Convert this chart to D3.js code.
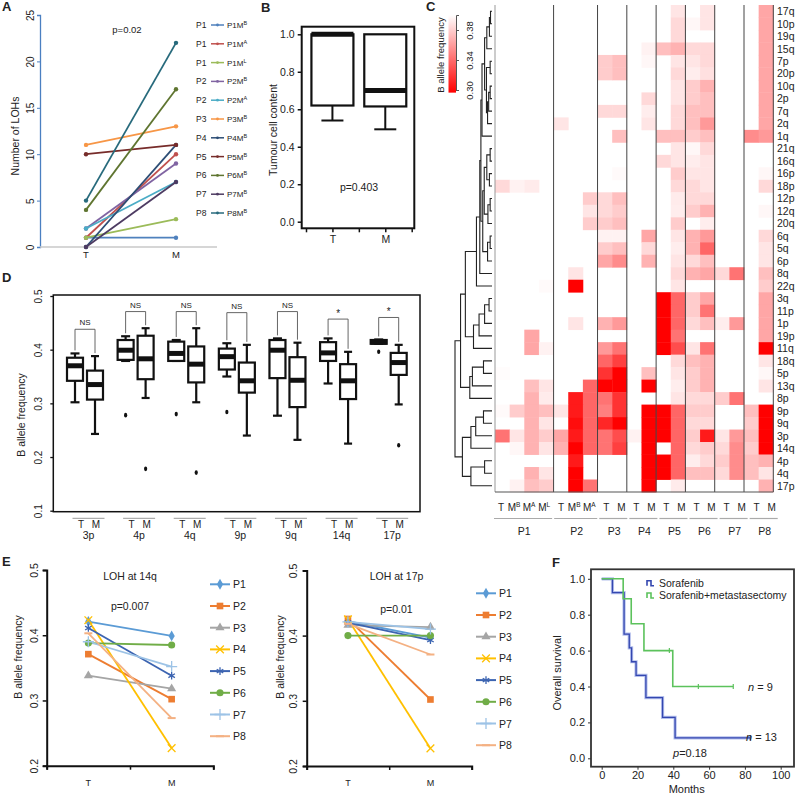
<!DOCTYPE html>
<html><head><meta charset="utf-8">
<script src="https://cdn.jsdelivr.net/npm/d3@7"></script>
<style>body{margin:0;background:#fff} svg{display:block} text{font-family:Arial,"Liberation Sans",Helvetica,sans-serif;fill:#222}</style>
</head><body><svg id="c" width="796" height="794"></svg>
<script>
// ---------------- DATA ----------------
// Panel A
const lohPatient = ["P1","P1","P1","P2","P2","P3","P4","P5","P6","P7","P8"];
const lohSampleSup = ["B","A","L","B","A","B","B","B","B","B","B"];
const lohT = [1,1,1,2,2,11,0,10,4,0,5];
const lohM = [1,10,3,9,7,13,11,11,17,7,22];
const lohColor = ["#4f81bd","#c0504d","#9bbb59","#8064a2","#4bacc6","#f79646","#2c4d75","#772c2a","#5f7530","#4d3b62","#276a7c"];
const lohTicks = [0,5,10,15,20,25];
// Panel B
const tcGroups = ["T","M"];
const tcMin = [0.54,0.493], tcQ1 = [0.62,0.615], tcMed = [1.0,0.70], tcQ3 = [1.0,1.0];
const tcTicks = [0,0.2,0.4,0.6,0.8,1.0];
// Panel C
const W = 0.45; // no LOH (white)
const chrArms = ["17q","10p","19q","15q","7p","20p","10q","2p","7q","2q","1q","21q","16q","16p","18p","12p","12q","20q","6q","5q","6p","8q","22q","3q","11p","1p","19p","11q","18q","5p","13q","8p","9p","9q","3p","14q","4p","4q","17p"];
const redArms = ["9p","9q","3p","14q","4p","4q","17p"];
const sampleBase = ["T","M","M","M","T","M","M","T","M","T","M","T","M","T","M","T","M","T","M"];
const sampleSup  = ["","B","A","L","","B","A","","","","","","","","","","","",""];
const samplePatient = ["P1","P1","P1","P1","P2","P2","P2","P3","P3","P4","P4","P5","P5","P6","P6","P7","P7","P8","P8"];
const patients = ["P1","P2","P3","P4","P5","P6","P7","P8"];
const bafMatrix = [
[W,W,W,W, W,W,W, W,W, W,W, W,.39, W,.39, W,W, W,.365],
[W,W,W,W, W,W,W, W,W, W,W, W,.385, .397,.39, W,W, W,.365],
[W,W,W,W, W,W,W, W,W, W,W, W,.385, W,W, W,W, W,.365],
[W,W,W,W, W,W,W, W,W, W,.395, .375,.37, .385,.385, W,W, W,.365],
[W,W,W,W, W,W,W, .38,.375, W,.397, W,.39, .39,.385, W,W, W,.365],
[W,W,W,W, W,W,W, .38,.375, W,W, W,.385, .393,.388, W,W, W,.365],
[W,W,W,W, W,W,W, W,W, W,W, W,.39, .38,.37, W,W, W,.365],
[W,W,W,W, W,W,W, W,W, W,.385, W,.39, .38,.375, W,W, W,.365],
[W,W,W,W, W,W,W, .385,.385, W,.393, W,.385, .375,.375, W,W, W,.365],
[W,W,W,W, .39,W,W, W,W, W,.39, W,.385, .375,.36, W,W, W,.365],
[W,W,W,W, W,W,W, W,.375, W,W, .375,.375, .38,.375, W,W, .355,.36],
[W,W,W,W, W,W,W, W,W, W,W, W,.39, .397,.385, W,W, W,W],
[W,W,W,W, W,W,W, W,W, W,W, .385,.39, .393,.39, W,W, W,W],
[W,W,W,W, W,W,W, W,.398, W,W, W,.38, .39,.39, W,W, W,.397],
[.385,.395,.392,W, W,W,W, W,W, W,W, W,.385, .385,.39, W,W, W,.385],
[W,W,W,W, W,W,.38, .385,.375, W,W, W,.392, .385,.385, W,W, W,W],
[W,W,W,W, W,W,.39, .385,.38, W,W, W,.393, .38,.37, W,W, W,.397],
[W,W,W,W, W,W,.38, .38,.375, W,W, W,.38, W,.393, W,W, W,W],
[W,W,W,W, W,W,W, .395,.395, W,.365, W,.39, .37,.36, W,W, W,.385],
[W,W,W,W, W,W,W, .38,.375, W,.385, W,.393, .37,.34, W,W, W,.39],
[W,W,W,W, W,W,W, .365,.355, W,.37, W,.39, .385,.375, W,W, W,.39],
[W,W,W,W, W,.39,W, W,W, W,W, W,.385, .37,.365, .385,.345, W,.375],
[W,W,W,.398, W,.30,W, W,W, W,W, W,.39, W,W, W,W, W,.38],
[W,W,W,W, W,W,W, W,W, W,W, .30,.34, .38,.365, W,W, W,.365],
[W,W,W,W, W,W,W, W,W, W,W, .30,.34, .38,.345, W,W, W,.365],
[W,W,W,W, W,.39,W, .37,.36, W,W, .30,.34, .385,.375, .393,.36, W,.365],
[W,W,.365,W, W,W,W, W,W, W,W, .30,.345, W,W, W,W, W,.365],
[W,W,.365,.395, W,W,W, .36,.345, W,W, .30,.33, .39,.345, W,W, W,.30],
[W,W,W,W, W,W,W, .34,.325, W,W, W,.385, .375,.37, W,W, W,.39],
[.399,W,W,W, W,W,W, .32,.30, W,.375, W,.39, .38,.37, W,W, W,.397],
[W,W,.375,.39, W,W,.34, .30,.30, W,.30, W,.393, .38,.37, W,W, W,.39],
[W,W,.37,.392, W,.31,.34, .345,.32, W,W, W,.39, .385,.385, .38,.345, W,W],
[.398,.38,.37,.375, .39,.31,.34, .35,.32, W,.30, .30,.34, .38,.38, W,W, .375,.30],
[W,W,.37,.39, W,.305,.34, .315,.30, W,.30, .30,.34, .385,.385, W,W, .38,.30],
[.345,.39,.37,.38, .365,.31,.34, .345,.33, .395,.30, .30,.34, .38,.31, .39,.36, .375,.30],
[W,.397,.37,.39, .37,.30,.34, .345,.325, W,.30, W,.34, .385,.38, .385,.355, .38,.30],
[W,W,W,W, W,.31,W, W,W, W,.30, .30,.34, .393,.385, .38,.355, .375,.37],
[W,W,.37,.39, W,.30,W, W,W, W,.30, .30,.34, .375,.375, .385,.355, .375,.39],
[W,.395,.375,.38, W,.30,.345, W,W, W,.30, W,.392, W,W, W,W, W,.37]
];
const colorbarTicks = [0.30,0.34,0.38];
// dendrogram: [height, left, right]
const armTree = [1.0,
  [0.85,
    [0.72,
      [0.42,[0.33,[0.3,
        [0.27,[0.2,[0.14,[0.07,[0.04,"17q","10p"],"19q"],"15q"],[0.15,[0.05,"7p","20p"],[0.12,[0.09,[0.05,"10q","2p"],"7q"],"2q"]]],"1q"],
        [0.25,[0.21,[0.14,[0.05,"21q","16q"],[0.07,"16p","18p"]],[0.11,[0.05,"12p","12q"],"20q"]],[0.12,[0.05,"6q","5q"],"6p"]]
      ],"8q"],"22q"],
      [0.5,[0.35,[0.2,[0.08,"3q","11p"],"1p"],"19p"],"11q"]
    ],
    [0.6,[0.53,[0.23,"18q","5p"],"13q"],"8p"]
  ],
  [0.8,
    [0.57,[0.44,[0.23,"9p","9q"],"3p"],"14q"],
    [0.57,[0.2,"4p","4q"],"17p"]
  ]
];
// Panel D
const chrD = ["3p","4p","4q","9p","9q","14q","17p"];
const dT = {lo:[.302,.379,.379,.35,.277,.337,.411], q1:[.342,.381,.379,.363,.347,.379,.411], med:[.370,.399,.393,.387,.399,.394,.414], q3:[.385,.418,.415,.402,.418,.414,.418], hi:[.393,.425,.418,.412,.421,.421,.419]};
const dM = {lo:[.243,.31,.302,.24,.232,.225,.298], q1:[.307,.345,.339,.32,.293,.308,.353], med:[.335,.383,.373,.342,.343,.342,.376], q3:[.361,.426,.406,.376,.386,.373,.394], hi:[.388,.44,.44,.409,.413,.396,.409]};
const dOutT = [null,.278,.28,.284,null,null,.396];
const dOutM = [null,.178,.171,null,null,null,.222];
const dSigLabel = ["NS","NS","NS","NS","NS","*","*"];
const dSigY = [.438,.471,.471,.469,.471,.457,.46];
const dTicks = [0.1,0.2,0.3,0.4,0.5];
// Panel E
const ePatients = ["P1","P2","P3","P4","P5","P6","P7","P8"];
const eColors = ["#5b9bd5","#ed7d31","#a5a5a5","#ffc000","#3c64b1","#70ad47","#9dc3e6","#f4b183"];
const eSymbols = ["diamond","square","triangle","times","asterisk","circle","plus","dash"];
const e14T = [0.421,0.371,0.338,0.423,0.411,0.388,0.390,0.403];
const e14M = [0.399,0.302,0.318,0.227,0.338,0.385,0.352,0.273];
const e17T = [0.422,0.4255,0.416,0.425,0.420,0.400,0.421,0.418];
const e17M = [0.397,0.302,0.413,0.227,0.393,0.400,0.410,0.371];
const eTicks = [0.2,0.3,0.4,0.5];
// Panel F
const kmTimesS = [0,6,12.5,15.4,16.7,19.2,24.7,34,41,83];
const kmSurvS  = [1,0.923,0.692,0.615,0.538,0.462,0.338,0.228,0.114,0.114];
const kmTimesC = [0,12,16.5,23.6,39.7,73.5];
const kmSurvC  = [1,0.889,0.75,0.6,0.4,0.4];
const censorC = [[37.8,0.6],[54,0.4],[73.5,0.4]];
const censorS = [[83,0.114]];
const fTicksX = [0,20,40,60,80,100];
const fTicksY = [0,0.2,0.4,0.6,0.8,1.0];

// ---------------- DRAW ----------------
const svg = d3.select("#c");
const FONT = 'Arial,"Liberation Sans",sans-serif';
function panelLabel(t,x,y){svg.append("text").attr("x",x).attr("y",y).attr("font-size",13).attr("font-weight","bold").text(t);}
function rotTicks(g,off){g.selectAll(".tick text").attr("transform","rotate(-90)").attr("x",0).attr("y",off).attr("dy",0).attr("text-anchor","middle");}
function rotText(x,y,t,fs){return svg.append("text").attr("transform",`translate(${x},${y}) rotate(-90)`).attr("text-anchor","middle").attr("font-size",fs).text(t);}

// ===== Panel A =====
panelLabel("A",2,11);
const yA = d3.scaleLinear([0,25],[247,15]);
const xA = d3.scalePoint(["T","M"],[86,176]);
const gA = svg.append("g").attr("transform","translate(40,0)").call(d3.axisLeft(yA).tickValues(lohTicks).tickSize(3));
gA.select(".domain").attr("stroke","#4a7fc1").attr("stroke-width",1.3);
gA.selectAll(".tick line").attr("stroke","#4a7fc1");
gA.selectAll(".tick text").attr("font-size",10).attr("fill","#333").attr("font-family",FONT);
rotTicks(gA,-6);
svg.append("line").attr("x1",40).attr("x2",217).attr("y1",yA(0)).attr("y2",yA(0)).attr("stroke","#c8c8c8").attr("stroke-width",1.3);
["T","M"].forEach(c=>svg.append("text").attr("x",xA(c)).attr("y",258).attr("text-anchor","middle").attr("font-size",9.5).text(c));
rotText(19,136,"Number of LOHs",10.5);
svg.append("text").attr("x",127).attr("y",32.5).attr("text-anchor","middle").attr("font-size",9.5).text("p=0.02");
lohT.forEach((t,i)=>{
  const g=svg.append("g");
  g.append("line").attr("x1",xA("T")).attr("y1",yA(t)).attr("x2",xA("M")).attr("y2",yA(lohM[i])).attr("stroke",lohColor[i]).attr("stroke-width",1.8);
  g.append("circle").attr("cx",xA("T")).attr("cy",yA(t)).attr("r",2.2).attr("fill",lohColor[i]);
  g.append("circle").attr("cx",xA("M")).attr("cy",yA(lohM[i])).attr("r",2.2).attr("fill",lohColor[i]);
});
lohPatient.forEach((p,i)=>{
  const y=25+i*18.8;
  svg.append("text").attr("x",196).attr("y",y+3).attr("font-size",8.5).attr("fill","#333").text(p);
  svg.append("line").attr("x1",211).attr("x2",224).attr("y1",y).attr("y2",y).attr("stroke",lohColor[i]).attr("stroke-width",1.5);
  svg.append("circle").attr("cx",217.5).attr("cy",y).attr("r",1.4).attr("fill",lohColor[i]);
  const t=svg.append("text").attr("x",227).attr("y",y+3).attr("font-size",8).attr("fill","#333").text(p+"M");
  t.append("tspan").attr("font-size",5.5).attr("dy",-3).text(lohSampleSup[i]);
});

// ===== Panel B =====
panelLabel("B",261,12);
const yB = d3.scaleLinear([0,1],[221.7,34.3]);
const xB = d3.scaleLinear([0.5,2.5],[306,411.7]);
svg.append("rect").attr("x",301.7).attr("y",26.7).attr("width",112.6).attr("height",201.6).attr("fill","none").attr("stroke","#111").attr("stroke-width",2);
const gB = svg.append("g").attr("transform","translate(301.7,0)").call(d3.axisLeft(yB).tickValues(tcTicks).tickFormat(d3.format(".1f")).tickSize(4));
gB.select(".domain").remove();
gB.selectAll(".tick line").attr("stroke","#111").attr("stroke-width",1.5);
gB.selectAll(".tick text").attr("font-size",10.5).attr("fill","#222").attr("font-family",FONT);
const gBx = svg.append("g").attr("transform","translate(0,228.3)").call(d3.axisBottom(xB).tickValues([0.5,1,1.5,2,2.5]).tickSize(4).tickFormat(d=>d===1?"T":d===2?"M":""));
gBx.select(".domain").remove();
gBx.selectAll(".tick line").attr("stroke","#111").attr("stroke-width",1.5);
gBx.selectAll(".tick text").attr("font-size",10.5).attr("fill","#222").attr("font-family",FONT);
rotText(277,130,"Tumour cell content",10.5);
svg.append("text").attr("x",359).attr("y",191).attr("text-anchor","middle").attr("font-size",10.5).text("p=0.403");
tcGroups.forEach((g,i)=>{
  const cx=xB(i+1);
  svg.append("line").attr("x1",cx).attr("x2",cx).attr("y1",yB(tcQ1[i])).attr("y2",yB(tcMin[i])).attr("stroke","#111").attr("stroke-width",2);
  svg.append("line").attr("x1",cx-11).attr("x2",cx+11).attr("y1",yB(tcMin[i])).attr("y2",yB(tcMin[i])).attr("stroke","#111").attr("stroke-width",2);
  svg.append("rect").attr("x",cx-21).attr("y",yB(tcQ3[i])).attr("width",42).attr("height",yB(tcQ1[i])-yB(tcQ3[i])).attr("fill","none").attr("stroke","#111").attr("stroke-width",2.2);
  svg.append("line").attr("x1",cx-21).attr("x2",cx+21).attr("y1",yB(tcMed[i])).attr("y2",yB(tcMed[i])).attr("stroke","#111").attr("stroke-width",5);
});

// ===== Panel C =====
panelLabel("C",426,11);
const xC = d3.scaleBand(d3.range(19),[495,773.3]);
const yC = d3.scaleBand(chrArms,[5,492]);
const colC = d3.scaleLinear([0.30,0.40],["#ff0000","#ffffff"]).clamp(true);
bafMatrix.forEach((row,r)=>row.forEach((v,c)=>{
  if(v>=0.40) return;
  svg.append("rect").attr("x",xC(c)).attr("y",yC(chrArms[r])).attr("width",xC.bandwidth()+0.4).attr("height",yC.bandwidth()+0.4).attr("fill",colC(v));
}));
svg.append("line").attr("x1",495).attr("x2",495).attr("y1",5).attr("y2",492).attr("stroke","#999").attr("stroke-width",1);
samplePatient.forEach((p,i)=>{
  if(i>0 && samplePatient[i-1]!==p){
    svg.append("line").attr("x1",xC(i)).attr("x2",xC(i)).attr("y1",5).attr("y2",492).attr("stroke","#444").attr("stroke-width",1);
  }
});
svg.append("line").attr("x1",xC(18)+xC.bandwidth()).attr("x2",xC(18)+xC.bandwidth()).attr("y1",5).attr("y2",492).attr("stroke","#444").attr("stroke-width",1);
svg.append("line").attr("x1",495).attr("x2",773.3).attr("y1",492).attr("y2",492).attr("stroke","#555").attr("stroke-width",1.2);
chrArms.forEach(a=>svg.append("text").attr("x",777).attr("y",yC(a)+yC.bandwidth()/2+3.8).attr("font-size",10.5).attr("fill",redArms.includes(a)?"#ff0000":"#222").text(a));
const xLab = d3.scalePoint(d3.range(19),[501,771.7]);
sampleBase.forEach((b,i)=>{
  const t=svg.append("text").attr("x",xLab(i)-(sampleSup[i]?2:0)).attr("y",511).attr("text-anchor","middle").attr("font-size",10).attr("fill","#333").text(b);
  if(sampleSup[i]) t.append("tspan").attr("font-size",6.5).attr("dy",-4).text(sampleSup[i]);
});
patients.forEach(p=>{
  const idx=d3.range(19).filter(i=>samplePatient[i]===p);
  const x0=xLab(idx[0])-7, x1=xLab(idx[idx.length-1])+6;
  svg.append("line").attr("x1",x0).attr("x2",x1).attr("y1",518.5).attr("y2",518.5).attr("stroke","#aaa").attr("stroke-width",1.2);
  svg.append("text").attr("x",(x0+x1)/2+1).attr("y",534.5).attr("text-anchor","middle").attr("font-size",10.5).attr("fill","#333").text(p);
});
const xDen = d3.scaleLinear([0,1],[492,455]);
function den(node){
  if(typeof node==="string") return {x:xDen(0),y:yC(node)+yC.bandwidth()/2};
  const [h,a,b]=node; const A=den(a),B=den(b),x=xDen(h);
  svg.append("path").attr("d",`M${A.x},${A.y}H${x}V${B.y}H${B.x}`).attr("fill","none").attr("stroke","#222").attr("stroke-width",1.1);
  return {x,y:(A.y+B.y)/2};
}
den(armTree);
const yCB = d3.scaleLinear([0.30,0.40],[90,15]);
const grad = svg.append("defs").append("linearGradient").attr("id","cb").attr("x1",0).attr("x2",0).attr("y1",0).attr("y2",1);
grad.append("stop").attr("offset","0%").attr("stop-color",colC(0.40));
grad.append("stop").attr("offset","100%").attr("stop-color",colC(0.2965));
svg.append("rect").attr("x",448.5).attr("y",yCB(0.40)).attr("width",7.5).attr("height",yCB(0.2965)-yCB(0.40)).attr("fill","url(#cb)");
const gCB = svg.append("g").attr("transform","translate(456,0)").call(d3.axisRight(yCB).tickValues(colorbarTicks).tickFormat(d3.format(".2f")).tickSize(3));
gCB.select(".domain").attr("stroke","#555");
gCB.selectAll(".tick line").attr("stroke","#555");
gCB.selectAll(".tick text").attr("font-size",9.5).attr("fill","#333").attr("font-family",FONT);
rotTicks(gCB,17);
rotText(444,55,"B allele frequency",9.5);

// ===== Panel D =====
panelLabel("D",2,282);
const yD = d3.scaleLinear([0.1,0.5],[510.7,296]);
const xD = d3.scalePoint(chrD,[85,388.7]);
svg.append("rect").attr("x",53.3).attr("y",295).attr("width",366.7).attr("height",216.7).attr("fill","none").attr("stroke","#111").attr("stroke-width",1.5);
const gD = svg.append("g").attr("transform","translate(53.3,0)").call(d3.axisLeft(yD).tickValues(dTicks).tickFormat(d3.format(".1f")).tickSize(3));
gD.select(".domain").remove();
gD.selectAll(".tick line").attr("stroke","#111").attr("stroke-width",1.3);
gD.selectAll(".tick text").attr("font-size",10).attr("fill","#333").attr("font-family",FONT);
rotTicks(gD,-11);
rotText(25,415,"B allele frequency",10.5);
function boxD(cx,s,i,capW){
  const k="#111";
  svg.append("line").attr("x1",cx).attr("x2",cx).attr("y1",yD(s.hi[i])).attr("y2",yD(s.q3[i])).attr("stroke",k).attr("stroke-width",2.2);
  svg.append("line").attr("x1",cx).attr("x2",cx).attr("y1",yD(s.q1[i])).attr("y2",yD(s.lo[i])).attr("stroke",k).attr("stroke-width",2.2);
  svg.append("line").attr("x1",cx-capW/2).attr("x2",cx+capW/2).attr("y1",yD(s.hi[i])).attr("y2",yD(s.hi[i])).attr("stroke",k).attr("stroke-width",2.2);
  svg.append("line").attr("x1",cx-capW/2).attr("x2",cx+capW/2).attr("y1",yD(s.lo[i])).attr("y2",yD(s.lo[i])).attr("stroke",k).attr("stroke-width",2.2);
  svg.append("rect").attr("x",cx-8).attr("y",yD(s.q3[i])).attr("width",16).attr("height",Math.max(0.5,yD(s.q1[i])-yD(s.q3[i]))).attr("fill","#fff").attr("stroke",k).attr("stroke-width",2.2);
  svg.append("line").attr("x1",cx-8).attr("x2",cx+8).attr("y1",yD(s.med[i])).attr("y2",yD(s.med[i])).attr("stroke",k).attr("stroke-width",5);
}
chrD.forEach((c,i)=>{
  const cx=xD(c), tx=cx-10, mx=cx+10;
  boxD(tx,dT,i,9); boxD(mx,dM,i,8);
  if(dOutT[i]!=null) svg.append("ellipse").attr("cx",tx).attr("cy",yD(dOutT[i])).attr("rx",1.6).attr("ry",2.3).attr("fill","#111");
  if(dOutM[i]!=null) svg.append("ellipse").attr("cx",mx).attr("cy",yD(dOutM[i])).attr("rx",1.6).attr("ry",2.3).attr("fill","#111");
  const by=yD(dSigY[i]);
  svg.append("path").attr("d",`M${tx},${yD(dT.hi[i])-3}V${by}H${mx}V${yD(dM.hi[i])-3}`).attr("fill","none").attr("stroke","#555").attr("stroke-width",0.9);
  svg.append("text").attr("x",cx).attr("y",by-(dSigLabel[i]==="*"?2:4)).attr("text-anchor","middle").attr("font-size",dSigLabel[i]==="*"?10:8).attr("fill","#333").text(dSigLabel[i]);
  const lc=cx+3.5;
  svg.append("line").attr("x1",lc-16).attr("x2",lc+16).attr("y1",518.3).attr("y2",518.3).attr("stroke","#999").attr("stroke-width",1);
  svg.append("text").attr("x",lc-7.5).attr("y",528).attr("text-anchor","middle").attr("font-size",10).text("T");
  svg.append("text").attr("x",lc+7.5).attr("y",528).attr("text-anchor","middle").attr("font-size",10).text("M");
  svg.append("text").attr("x",lc).attr("y",538.5).attr("text-anchor","middle").attr("font-size",10.5).text(c);
});

// ===== Panel E =====
panelLabel("E",2,566);
function drawSym(g,kind,x,y,color){
  const map={diamond:d3.symbolDiamond,square:d3.symbolSquare,triangle:d3.symbolTriangle,circle:d3.symbolCircle,asterisk:d3.symbolAsterisk,plus:d3.symbolPlus,times:d3.symbolTimes||d3.symbolCross};
  if(kind==="dash"){g.append("line").attr("x1",x-4).attr("x2",x+4).attr("y1",y).attr("y2",y).attr("stroke",color).attr("stroke-width",2);return;}
  const sizes={diamond:34,square:44,triangle:36,circle:40,asterisk:40,plus:42,times:40};
  const p=g.append("path").attr("transform",`translate(${x},${y})`).attr("d",d3.symbol(map[kind],sizes[kind])());
  if(["asterisk","plus","times"].includes(kind)) p.attr("fill","none").attr("stroke",color).attr("stroke-width",1.3);
  else p.attr("fill",color);
}
function panelE(x0,x1,ys,T,M,title,ptext,titleX,yTitle,pY,legX,legY0,labX,tickOff){
  const yE=d3.scaleLinear([0.2,0.5],ys);
  const xE=d3.scaleLinear([0,2],[x0,x1]);
  const gy=svg.append("g").attr("transform",`translate(${x0},0)`).call(d3.axisLeft(yE).tickValues(eTicks).tickFormat(d3.format(".1f")).tickSize(4));
  gy.select(".domain").attr("stroke","#111").attr("stroke-width",2);
  gy.selectAll(".tick line").attr("stroke","#111").attr("stroke-width",1.5);
  gy.selectAll(".tick text").attr("font-size",10.5).attr("fill","#333").attr("font-family",FONT);
  rotTicks(gy,tickOff);
  const gx=svg.append("g").attr("transform",`translate(0,${ys[0]})`).call(d3.axisBottom(xE).tickValues([0,1,2]).tickSize(4).tickFormat(""));
  gx.select(".domain").attr("stroke","#111").attr("stroke-width",2);
  gx.selectAll(".tick line").attr("stroke","#111").attr("stroke-width",1.5);
  [["T",0.5],["M",1.5]].forEach(([l,v])=>svg.append("text").attr("x",xE(v)).attr("y",786).attr("text-anchor","middle").attr("font-size",9).text(l));
  rotText(labX,657,"B allele frequency",10.5);
  svg.append("text").attr("x",titleX).attr("y",yTitle).attr("text-anchor","middle").attr("font-size",10.5).attr("fill","#333").text(title);
  svg.append("text").attr("x",titleX).attr("y",pY).attr("text-anchor","middle").attr("font-size",10.5).attr("fill","#333").text(ptext);
  T.forEach((t,i)=>{
    svg.append("line").attr("x1",xE(0.5)).attr("y1",yE(t)).attr("x2",xE(1.5)).attr("y2",yE(M[i])).attr("stroke",eColors[i]).attr("stroke-width",1.8);
  });
  T.forEach((t,i)=>{
    const g=svg.append("g");
    drawSym(g,eSymbols[i],xE(0.5),yE(t),eColors[i]);
    drawSym(g,eSymbols[i],xE(1.5),yE(M[i]),eColors[i]);
  });
  ePatients.forEach((p,i)=>{
    const y=legY0+i*21.7, g=svg.append("g");
    g.append("line").attr("x1",legX).attr("x2",legX+20).attr("y1",y).attr("y2",y).attr("stroke",eColors[i]).attr("stroke-width",2);
    drawSym(g,eSymbols[i],legX+10,y,eColors[i]);
    svg.append("text").attr("x",legX+23).attr("y",y+4).attr("font-size",10.5).attr("fill","#333").text(p);
  });
}
panelE(46.7,213.3,[765.7,570],e14T,e14M,"LOH at 14q","p=0.007",130,580,610,210,584.3,22,-9);
panelE(306.7,471.7,[766,570.4],e17T,e17M,"LOH at 17p","p=0.01",396.5,580,613,476,593.3,284,-10);

// ===== Panel F =====
panelLabel("F",552,567);
const xF = d3.scaleLinear([0,100],[601.7,780.7]);
const yF = d3.scaleLinear([0,1],[758.3,578.8]);
svg.append("rect").attr("x",591).attr("y",569.3).attr("width",203).attr("height",197.4).attr("fill","none").attr("stroke","#333").attr("stroke-width",1.8);
const gFy = svg.append("g").attr("transform","translate(591,0)").call(d3.axisLeft(yF).tickValues(fTicksY).tickFormat(d3.format(".1f")).tickSize(3));
gFy.select(".domain").remove();
gFy.selectAll(".tick line").attr("stroke","#333");
gFy.selectAll(".tick text").attr("font-size",11).attr("fill","#333").attr("font-family",FONT);
const gFx = svg.append("g").attr("transform","translate(0,766.7)").call(d3.axisBottom(xF).tickValues(fTicksX).tickSize(3));
gFx.select(".domain").remove();
gFx.selectAll(".tick line").attr("stroke","#333");
gFx.selectAll(".tick text").attr("font-size",11).attr("fill","#333").attr("font-family",FONT).attr("dy","0.55em");
svg.append("text").attr("x",686.7).attr("y",793).attr("text-anchor","middle").attr("font-size",11).attr("fill","#333").text("Months");
rotText(561,673,"Overall survival",11);
const km = d3.line().x(d=>xF(d[0])).y(d=>yF(d[1])).curve(d3.curveStepAfter);
const sData = kmTimesS.map((t,i)=>[t,kmSurvS[i]]);
const cData = kmTimesC.map((t,i)=>[t,kmSurvC[i]]);
svg.append("path").attr("d",km(sData)).attr("fill","none").attr("stroke","#b4bfec").attr("stroke-width",3.2);
svg.append("path").attr("d",km(sData)).attr("fill","none").attr("stroke","#3447b0").attr("stroke-width",1.3);
svg.append("path").attr("d",km(cData)).attr("fill","none").attr("stroke","#5cc25c").attr("stroke-width",1.6);
censorC.forEach(([t,s])=>svg.append("line").attr("x1",xF(t)).attr("x2",xF(t)).attr("y1",yF(s)-2.5).attr("y2",yF(s)+2.5).attr("stroke","#5cc25c").attr("stroke-width",1.2));
censorS.forEach(([t,s])=>svg.append("line").attr("x1",xF(t)).attr("x2",xF(t)).attr("y1",yF(s)-2.5).attr("y2",yF(s)+2.5).attr("stroke","#3447b0").attr("stroke-width",1.2));
[["Sorafenib","#3447b0",582.7],["Sorafenib+metastasectomy","#5cc25c",595]].forEach(([l,c,y])=>{
  svg.append("path").attr("d",`M647,${y+3}V${y-2}H651V${y+3}H654`).attr("fill","none").attr("stroke",c).attr("stroke-width",1.6);
  svg.append("text").attr("x",659).attr("y",y+4).attr("font-size",10.5).attr("fill","#333").text(l);
});
const n9=svg.append("text").attr("x",748).attr("y",691).attr("font-size",11).attr("fill","#222");
n9.append("tspan").attr("font-style","italic").text("n"); n9.append("tspan").text(" = 9");
const n13=svg.append("text").attr("x",746).attr("y",741).attr("font-size",11).attr("fill","#222");
n13.append("tspan").attr("font-style","italic").text("n"); n13.append("tspan").text(" = 13");
const pF=svg.append("text").attr("x",673).attr("y",757).attr("font-size",11).attr("fill","#222");
pF.append("tspan").attr("font-style","italic").text("p"); pF.append("tspan").text("=0.18");
</script></body></html>
